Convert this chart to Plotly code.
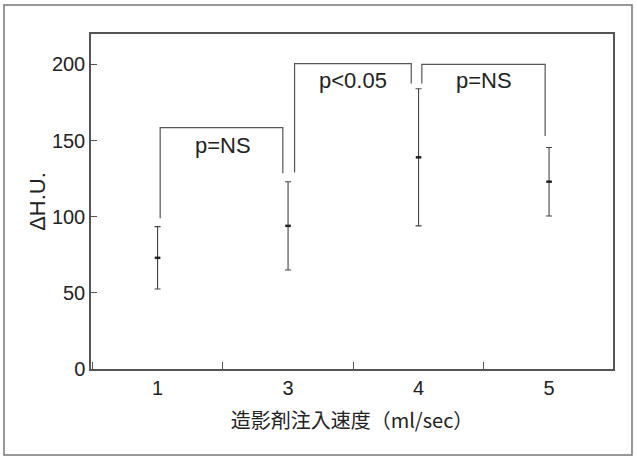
import plotly.graph_objects as go

# ---- data ----
categories = ["1", "3", "4", "5"]
means = [73, 94, 139, 123]
sd = [20.5, 29, 45, 22.5]

# significance brackets: (from index, to index)
bracket_from = [0, 1, 2]
bracket_to = [1, 2, 3]
bracket_top = [158.5, 200.5, 200.0]
bracket_left_end = [99, 129, 187.5]
bracket_right_end = [128.5, 187.5, 153]
bracket_labels = ["p=NS", "p<0.05", "p=NS"]
label_y = [147, 189.5, 189.5]

y_ticks = [0, 50, 100, 150, 200]

# ---- layout constants ----
FONT = "Liberation Sans, Arial, Noto Sans CJK JP"
LINE = "#555555"
TXT = "#222222"
left_off = [0.02, 0.05, 0.025]
right_off = [-0.04, -0.056, -0.03]

xpos = list(range(len(categories)))

fig = go.Figure()
fig.add_trace(go.Scatter(
    x=xpos, y=means, mode="markers",
    marker=dict(symbol="line-ew-open", size=4, color="#222222",
                line=dict(width=2.5, color="#222222")),
    error_y=dict(type="data", array=sd, visible=True, color="#444444",
                 thickness=1.1, width=3),
    showlegend=False, hoverinfo="skip",
))

shapes = []
for i in range(len(bracket_from)):
    xl = bracket_from[i] + left_off[i]
    xr = bracket_to[i] + right_off[i]
    top = bracket_top[i]
    shapes.append(dict(
        type="path", xref="x", yref="y",
        path=f"M {xl},{bracket_left_end[i]} L {xl},{top} L {xr},{top} L {xr},{bracket_right_end[i]}",
        line=dict(color=LINE, width=1.2),
    ))

# outer border
shapes.append(dict(type="rect", xref="paper", yref="paper",
                   x0=-0.1667, x1=1.0364, y0=-0.2567, y1=1.0866,
                   line=dict(color="#777777", width=1.5)))

annotations = []
for i in range(len(bracket_labels)):
    annotations.append(dict(
        x=(bracket_from[i] + bracket_to[i]) / 2, y=label_y[i],
        xref="x", yref="y", text=bracket_labels[i], showarrow=False,
        font=dict(family=FONT, size=22, color=TXT),
    ))

fig.update_layout(
    width=637, height=459,
    margin=dict(l=91, r=24, t=34, b=90, autoexpand=False),
    paper_bgcolor="white", plot_bgcolor="white",
    shapes=shapes, annotations=annotations,
    font=dict(family=FONT, color=TXT),
    xaxis=dict(
        range=[-0.51, 3.49], tickvals=xpos, ticktext=categories,
        ticks="", showgrid=False, zeroline=False, automargin=False,
        showline=True, linecolor=LINE, linewidth=1.5, mirror=True,
        tickfont=dict(family=FONT, size=20, color=TXT),
        minor=dict(tick0=0.5, dtick=1, ticks="inside", ticklen=7,
                   tickcolor=LINE, tickwidth=1.2, showgrid=False),
        title=dict(text="造影剤注入速度（ml/sec）", standoff=16,
                   font=dict(family="Noto Sans CJK JP, Liberation Sans", size=20, color=TXT)),
    ),
    yaxis=dict(
        range=[0, 220], tickvals=y_ticks,
        ticks="inside", ticklen=6, tickcolor=LINE, tickwidth=1.2,
        showgrid=False, zeroline=False, automargin=False,
        showline=True, linecolor=LINE, linewidth=1.5, mirror=True,
        tickfont=dict(family=FONT, size=20, color=TXT),
        title=dict(text="ΔH.U.", standoff=0,
                   font=dict(family=FONT, size=22, color=TXT)),
    ),
)

fig.write_html(
    "out.html",
    config={"displayModeBar": False},
    post_script="document.body.style.margin='0';document.body.style.overflow='hidden';",
)
